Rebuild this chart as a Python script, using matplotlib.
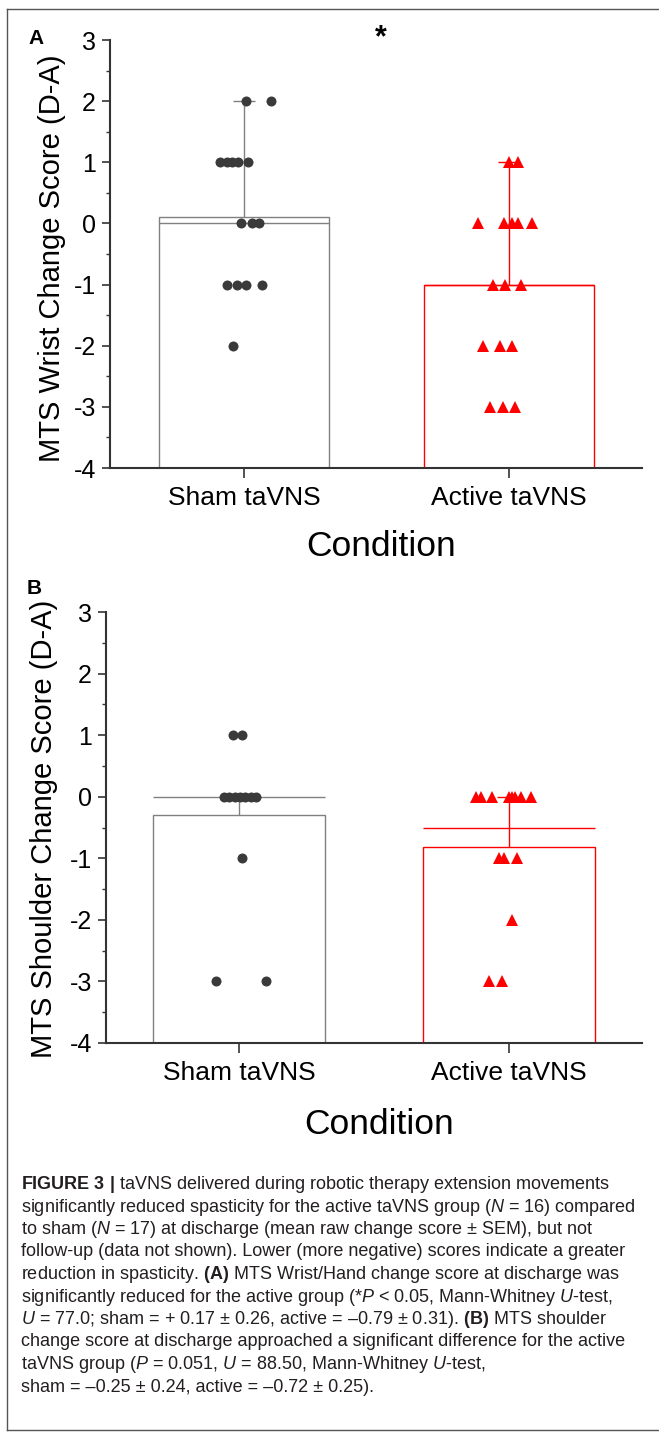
import matplotlib
matplotlib.use("Agg")
import matplotlib.pyplot as plt
from matplotlib.lines import Line2D
from matplotlib.ticker import MultipleLocator
import numpy as np

plt.rcParams['font.family'] = ['Liberation Sans', 'DejaVu Sans']
plt.rcParams['mathtext.fontset'] = 'custom'
plt.rcParams['mathtext.rm'] = 'Liberation Sans'
plt.rcParams['mathtext.it'] = 'Liberation Sans:italic'
plt.rcParams['mathtext.bf'] = 'Liberation Sans:bold'
plt.rcParams['axes.unicode_minus'] = False

categories = ["Sham taVNS", "Active taVNS"]

# A: wrist change score (bar = mean, line = median, whisker top)
wrist_mean = [0.11, -1.0]
wrist_median = [0.0, -1.0]
wrist_whisker = [2.0, 1.0]
wrist_sham = [2, 2, 1, 1, 1, 1, 1, 0, 0, 0, -1, -1, -1, -1, -2]
wrist_sham_dx = [0.006, 0.101, -0.091, -0.065, -0.044, -0.022, 0.014,
                 -0.011, 0.029, 0.058, -0.064, -0.026, 0.008, 0.068, -0.042]
wrist_active = [1, 1, 0, 0, 0, 0, 0, -1, -1, -1, -2, -2, -2, -3, -3, -3]
wrist_active_dx = [0.001, 0.033, -0.116, -0.017, 0.010, 0.033, 0.086,
                   -0.062, -0.015, 0.045, -0.100, -0.034, 0.012,
                   -0.072, -0.024, 0.023]

# B: shoulder change score
shoulder_mean = [-0.30, -0.81]
shoulder_median = [0.0, -0.5]
shoulder_whisker = [0.0, 0.0]
shoulder_sham = [1, 1, 0, 0, 0, 0, 0, 0, 0, -1, -3, -3]
shoulder_sham_dx = [-0.022, 0.009, -0.056, -0.036, -0.016, 0.003, 0.023,
                    0.043, 0.063, 0.009, -0.087, 0.099]
shoulder_active = [0, 0, 0, 0, 0, 0, 0, 0, -1, -1, -1, -2, -3, -3]
shoulder_active_dx = [-0.120, -0.102, -0.062, 0.001, 0.011, 0.022, 0.046,
                      0.084, -0.037, -0.019, 0.029, 0.010, -0.073, -0.025]

gray = '#808080'
red = '#ff0000'
dot = '#3a3a3a'
ink = '#231f20'


def draw_panel(ax, means, medians, whiskers, sham, sham_dx, active, active_dx,
               ylabel, xlim, ylab_xy, xlab_y):
    x = np.arange(len(categories))
    cols = [gray, red]
    w = 0.64
    ax.bar(x, np.array(means) + 4, bottom=-4, width=w, color='white',
           edgecolor=cols, linewidth=1.0, zorder=1)
    for i in range(2):
        ax.hlines(medians[i], x[i] - w / 2, x[i] + w / 2, color=cols[i], lw=1.0, zorder=2)
        ax.vlines(x[i], means[i], whiskers[i], color=cols[i], lw=1.0, zorder=2)
        ax.hlines(whiskers[i], x[i] - 0.042, x[i] + 0.042, color=cols[i], lw=1.0, zorder=2)
    ax.plot(x[0] + np.array(sham_dx), sham, 'o', color=dot, ms=7.2, mew=0, zorder=3)
    ax.plot(x[1] + np.array(active_dx), active, '^', color=red, ms=8, mew=0, zorder=3)

    ax.set_xlim(*xlim)
    ax.set_ylim(-4, 3)
    ax.set_yticks(range(-4, 4))
    ax.yaxis.set_minor_locator(MultipleLocator(0.5))
    ax.set_xticks(x)
    ax.set_xticklabels(categories, fontsize=19)
    ax.tick_params(axis='y', labelsize=18, length=6, width=1.2, pad=4, color='#333333')
    ax.tick_params(axis='y', which='minor', length=3, width=1.0, color='#333333')
    ax.tick_params(axis='x', length=7, width=1.2, pad=6, color='#333333')
    for s in ['top', 'right']:
        ax.spines[s].set_visible(False)
    for s in ['left', 'bottom']:
        ax.spines[s].set_linewidth(1.5)
        ax.spines[s].set_color('#333333')
    ax.set_ylabel(ylabel, fontsize=21)
    ax.yaxis.set_label_coords(*ylab_xy)
    ax.set_xlabel("Condition", fontsize=25.5)
    ax.xaxis.set_label_coords(0.51, xlab_y)


fig = plt.figure(figsize=(6.59, 14.34), dpi=100)
W, H = 659.0, 1434.0

axA = fig.add_axes([110 / W, 1 - 468 / H, 532 / W, 428 / H])
draw_panel(axA, wrist_mean, wrist_median, wrist_whisker, wrist_sham, wrist_sham_dx,
           wrist_active, wrist_active_dx, "MTS Wrist Change Score (D-A)",
           (-0.506, 1.502), (-0.083, 0.49), -0.146)

axB = fig.add_axes([106 / W, 1 - 1043 / H, 536 / W, 431 / H])
draw_panel(axB, shoulder_mean, shoulder_median, shoulder_whisker, shoulder_sham,
           shoulder_sham_dx, shoulder_active, shoulder_active_dx,
           "MTS Shoulder Change Score (D-A)", (-0.494, 1.494), (-0.09, 0.497), -0.15)

fig.text(36 / W, 1 - 38 / H, "A", fontsize=15, fontweight='bold', ha='center', va='center')
fig.text(34 / W, 1 - 589 / H, "B", fontsize=15, fontweight='bold', ha='center', va='center')
fig.text(381 / W, 1 - 38 / H, "*", fontsize=22, fontweight='bold', ha='center', va='center')

# frame around figure
frame = dict(color='#555555', lw=1.0, transform=fig.transFigure)
fig.add_artist(Line2D([7 / W, 7 / W], [1 - 9 / H, 1 - 1430 / H], **frame))
fig.add_artist(Line2D([7 / W, 1.0], [1 - 9 / H, 1 - 9 / H], **frame))
fig.add_artist(Line2D([7 / W, 1.0], [1 - 1430 / H, 1 - 1430 / H], **frame))

caption = [
    r"$\mathbf{FIGURE\ 3\ |}$ taVNS delivered during robotic therapy extension movements",
    r"significantly reduced spasticity for the active taVNS group ($\mathit{N}$ = 16) compared",
    r"to sham ($\mathit{N}$ = 17) at discharge (mean raw change score ± SEM), but not",
    r"follow-up (data not shown). Lower (more negative) scores indicate a greater",
    r"reduction in spasticity. $\mathbf{(A)}$ MTS Wrist/Hand change score at discharge was",
    r"significantly reduced for the active group (*$\mathit{P}$ < 0.05, Mann-Whitney $\mathit{U}$-test,",
    r"$\mathit{U}$ = 77.0; sham = + 0.17 ± 0.26, active = –0.79 ± 0.31). $\mathbf{(B)}$ MTS shoulder",
    r"change score at discharge approached a significant difference for the active",
    r"taVNS group ($\mathit{P}$ = 0.051, $\mathit{U}$ = 88.50, Mann-Whitney $\mathit{U}$-test,",
    r"sham = –0.25 ± 0.24, active = –0.72 ± 0.25).",
]
for i, line in enumerate(caption):
    fig.text(21 / W, 1 - (1189 + 22.5 * i) / H, line, fontsize=13, color=ink,
             ha='left', va='baseline')

fig.savefig("out.png", dpi=100)
